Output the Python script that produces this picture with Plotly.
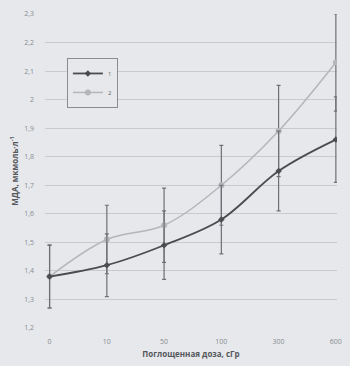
import plotly.graph_objects as go

doses = ["0", "10", "50", "100", "300", "600"]
series1 = [1.38, 1.42, 1.49, 1.58, 1.75, 1.86]
err1 = [0.11, 0.11, 0.12, 0.12, 0.14, 0.15]
series2 = [1.38, 1.51, 1.56, 1.70, 1.89, 2.13]
err2 = [0.11, 0.12, 0.13, 0.14, 0.16, 0.17]
y_ticks = [1.2, 1.3, 1.4, 1.5, 1.6, 1.7, 1.8, 1.9, 2.0, 2.1, 2.2, 2.3]
y_labels = ["1,2", "1,3", "1,4", "1,5", "1,6", "1,7", "1,8", "1,9", "2", "2,1", "2,2", "2,3"]

xi = list(range(len(doses)))
fig = go.Figure()
fig.add_trace(go.Scatter(
    x=xi, y=series2, name="2", mode="lines+markers", line_shape="spline",
    line=dict(color="#b4b6ba", width=1.5),
    marker=dict(color="#b4b6ba", size=6, symbol="circle"),
    error_y=dict(type="data", array=err2, color="#6e7074", thickness=1.2, width=2),
))
fig.add_trace(go.Scatter(
    x=xi, y=series1, name="1", mode="lines+markers", line_shape="spline",
    line=dict(color="#4a4c50", width=1.8),
    marker=dict(color="#4a4c50", size=5, symbol="diamond"),
    error_y=dict(type="data", array=err1, color="#6e7074", thickness=1.2, width=2),
))

bg = "#e6e8ec"
fig.update_layout(
    width=350, height=366,
    paper_bgcolor=bg, plot_bgcolor=bg,
    margin=dict(l=45, r=8, t=14, b=37),
    font=dict(family="Open Sans", size=7, color="#8a8c90"),
    showlegend=True,
    legend=dict(x=0.075, y=0.86, xanchor="left", yanchor="top",
                bgcolor=bg, bordercolor="#8a8c90", borderwidth=1,
                traceorder="reversed", font=dict(size=6, color="#6a6c70"),
                itemwidth=30, tracegroupgap=0),
    xaxis=dict(tickmode="array", tickvals=xi, ticktext=doses,
               range=[-0.08, 5.02], showgrid=False, zeroline=False,
               showline=False, ticks="", ticklabelstandoff=8,
               title=dict(text="<b>Поглощенная доза, сГр</b>",
                          font=dict(size=8, color="#55575b", family="Open Sans"),
                          standoff=6)),
    yaxis=dict(tickmode="array", tickvals=y_ticks, ticktext=y_labels,
               range=[1.2, 2.3], showgrid=True, gridcolor="#c8cacd",
               gridwidth=1, zeroline=False, showline=False, ticks="",
               ticklabelstandoff=10,
               title=dict(text="<b>МДА, мкмоль·л<sup>-1</sup></b>",
                          font=dict(size=8, color="#55575b", family="Open Sans"),
                          standoff=4)),
)
fig.write_html("out.html")
